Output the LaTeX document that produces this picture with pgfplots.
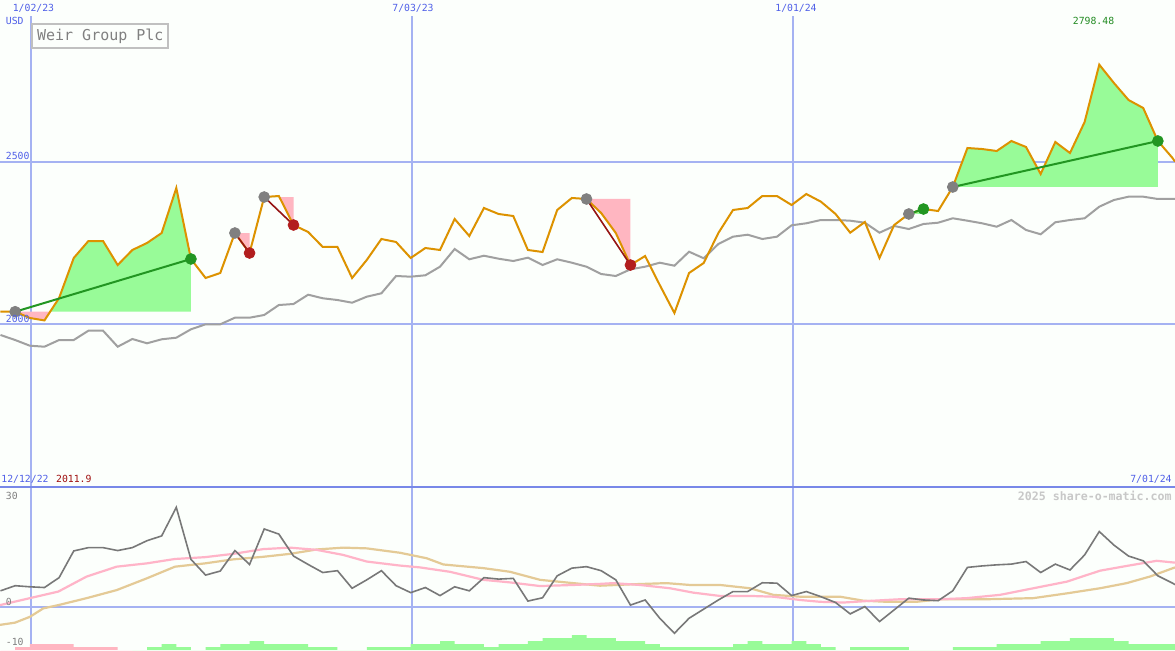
\documentclass[border=0pt]{standalone}
\usepackage{pgfplots}
\pgfplotsset{compat=1.18}
\usepackage{fontspec}
\newfontfamily\mono{DejaVu Sans Mono}
\definecolor{bg}{RGB}{252,255,252}
\definecolor{gridblue}{RGB}{165,178,242}
\definecolor{sepblue}{RGB}{120,136,232}
\definecolor{txtblue}{RGB}{80,96,232}
\definecolor{priceor}{RGB}{221,146,0}
\definecolor{magray}{RGB}{160,160,160}
\definecolor{fillgreen}{RGB}{152,251,152}
\definecolor{fillpink}{RGB}{255,182,193}
\definecolor{trendgreen}{RGB}{34,150,34}
\definecolor{trendred}{RGB}{150,20,20}
\definecolor{markgray}{RGB}{128,128,128}
\definecolor{markred}{RGB}{178,30,30}
\definecolor{markgreen}{RGB}{34,150,34}
\definecolor{oscgray}{RGB}{120,120,120}
\definecolor{sigpink}{RGB}{255,180,200}
\definecolor{sigtan}{RGB}{228,202,150}
\definecolor{boxgray}{RGB}{192,192,192}
\definecolor{wmgray}{RGB}{200,200,200}
\definecolor{txtgreen}{RGB}{34,139,34}
\definecolor{txtred}{RGB}{160,16,16}
\newcommand{\sm}{\mono\fontsize{4.9}{5}\selectfont}
\begin{document}
\begin{tikzpicture}
\path[use as bounding box, fill=bg] (0pt,0pt) rectangle (587.5pt,325pt);
% ---------------- upper panel ----------------
\begin{axis}[at={(0pt,81.5pt)}, anchor=south west, scale only axis,
  width=587.5pt, height=235.5pt,
  xmin=-0.034, xmax=80.17, ymin=1499.7, ymax=2948.0,
  axis line style={draw=none}, major tick length=0pt,
  xtick={2.08,28.09,54.1}, ytick={2000,2500},
  xticklabels={}, yticklabels={},
  grid=major,
  x grid style={gridblue, line width=0.6pt},
  y grid style={gridblue, line width=1pt},
  clip=false]
% trade areas
\addplot[fill=fillpink, draw=none] coordinates {(1,2038.7) (2,2019.4) (3,2011.9) (3.388,2038.7)} -- cycle;
\addplot[fill=fillgreen, draw=none] coordinates {(3.388,2038.7) (4,2080.9) (5,2203.9) (6,2256.1) (7,2256.1) (8,2182.3) (9,2228.5) (10,2250.0) (11,2280.7) (12,2419.1) (13,2200.8) (13,2038.7)} -- cycle;
\addplot[fill=fillpink, draw=none] coordinates {(16,2280.7) (17,2219.2) (17,2280.7)} -- cycle;
\addplot[fill=fillgreen, draw=none] coordinates {(18,2391.4) (19,2394.5) (19.035,2391.4)} -- cycle;
\addplot[fill=fillpink, draw=none] coordinates {(19.035,2391.4) (20,2305.3) (20,2391.4)} -- cycle;
\addplot[fill=fillpink, draw=none] coordinates {(40,2385.3) (41,2342.2) (42,2280.7) (43,2182.3) (43,2385.3)} -- cycle;
\addplot[fill=fillgreen, draw=none] coordinates {(62,2339.2) (63,2354.5) (63,2339.2)} -- cycle;
\addplot[fill=fillgreen, draw=none] coordinates {(65,2422.2) (66,2542.1) (67,2539.0) (68,2532.9) (69,2563.6) (70,2545.2) (71,2462.2) (72,2560.6) (73,2526.7) (74,2622.1) (75,2798.48) (76,2742.0) (77,2689.7) (78,2665.1) (79,2563.6) (79,2422.2)} -- cycle;
% moving average
\addplot[magray, line width=1pt] coordinates {
(0,1967.1) (1,1951.7) (2,1934.2) (3,1931.1) (4,1951.7) (5,1951.7) (6,1980.3) (7,1980.3) (8,1931.1) (9,1954.8)
(10,1941.6) (11,1953.9) (12,1958.8) (13,1984.6) (14,2000.0) (15,2000.0) (16,2020.3) (17,2020.3) (18,2028.6) (19,2059.3)
(20,2062.4) (21,2091.0) (22,2080.0) (23,2074.7) (24,2066.4) (25,2084.9) (26,2095.3) (27,2148.5) (28,2146.4) (29,2150.7)
(30,2177.1) (31,2231.5) (32,2199.9) (33,2210.9) (34,2201.7) (35,2194.6) (36,2204.8) (37,2182.3) (38,2199.9) (39,2189.4)
(40,2177.1) (41,2154.7) (42,2148.5) (43,2169.1) (44,2177.1) (45,2189.4) (46,2180.2) (47,2223.2) (48,2203.0) (49,2246.9)
(50,2269.4) (51,2275.5) (52,2262.3) (53,2269.4) (54,2304.4) (55,2310.6) (56,2320.7) (57,2320.7) (58,2318.6) (59,2312.4)
(60,2281.7) (61,2302.3) (62,2293.0) (63,2308.4) (64,2312.4) (65,2326.0) (66,2318.6) (67,2310.6) (68,2300.1) (69,2320.7)
(70,2290.0) (71,2276.8) (72,2313.7) (73,2320.7) (74,2326.0) (75,2361.6) (76,2382.2) (77,2392.4) (78,2392.4) (79,2385.3)
(80,2385.3) (80.17,2385.3)};
% price
\addplot[priceor, line width=1pt] coordinates {
(0,2038.7) (1,2038.7) (2,2019.4) (3,2011.9) (4,2080.9) (5,2203.9) (6,2256.1) (7,2256.1) (8,2182.3) (9,2228.5)
(10,2250.0) (11,2280.7) (12,2419.1) (13,2200.8) (14,2142.4) (15,2157.7) (16,2280.7) (17,2219.2) (18,2391.4) (19,2394.5)
(20,2305.3) (21,2283.8) (22,2237.7) (23,2237.7) (24,2142.4) (25,2197.7) (26,2262.3) (27,2253.1) (28,2203.9) (29,2234.6)
(30,2228.5) (31,2323.8) (32,2271.5) (33,2357.6) (34,2339.2) (35,2333.0) (36,2228.5) (37,2222.3) (38,2351.5) (39,2388.4)
(40,2385.3) (41,2342.2) (42,2280.7) (43,2182.3) (44,2210.0) (45,2120.8) (46,2034.7) (47,2157.7) (48,2188.5) (49,2280.7)
(50,2351.5) (51,2357.6) (52,2394.5) (53,2394.5) (54,2366.8) (55,2400.7) (56,2377.0) (57,2339.2) (58,2281.7) (59,2314.6)
(60,2203.9) (61,2305.3) (62,2339.2) (63,2354.5) (64,2348.4) (65,2422.2) (66,2542.1) (67,2539.0) (68,2532.9) (69,2563.6)
(70,2545.2) (71,2462.2) (72,2560.6) (73,2526.7) (74,2622.1) (75,2798.48) (76,2742.0) (77,2689.7) (78,2665.1) (79,2563.6)
(80,2511.4) (80.17,2500.0)};
% trend lines
\addplot[trendgreen, line width=1pt] coordinates {(1,2038.7) (13,2200.8)};
\addplot[trendred, line width=0.8pt] coordinates {(16,2280.7) (17,2219.2)};
\addplot[trendred, line width=0.8pt] coordinates {(18,2391.4) (20,2305.3)};
\addplot[trendred, line width=0.8pt] coordinates {(40,2385.3) (43,2182.3)};
\addplot[trendgreen, line width=1pt] coordinates {(62,2339.2) (63,2354.5)};
\addplot[trendgreen, line width=1pt] coordinates {(65,2422.2) (79,2563.6)};
% markers
\addplot[only marks, mark=*, mark size=2.7pt, mark options={fill=markgray, draw=markgray}] coordinates {(1,2038.7) (16,2280.7) (18,2391.4) (40,2385.3) (62,2339.2) (65,2422.2)};
\addplot[only marks, mark=*, mark size=2.7pt, mark options={fill=markred, draw=markred}] coordinates {(17,2219.2) (20,2305.3) (43,2182.3)};
\addplot[only marks, mark=*, mark size=2.7pt, mark options={fill=markgreen, draw=markgreen}] coordinates {(13,2200.8) (63,2354.5) (79,2563.6)};
\end{axis}
% ---------------- lower panel ----------------
\begin{axis}[at={(0pt,0pt)}, anchor=south west, scale only axis,
  width=587.5pt, height=81.5pt,
  xmin=-0.034, xmax=80.17, ymin=-11.67, ymax=32.87,
  axis line style={draw=none}, major tick length=0pt,
  xtick={2.08,28.09,54.1}, ytick={0},
  xticklabels={}, yticklabels={},
  grid=major,
  x grid style={gridblue, line width=0.6pt},
  y grid style={gridblue, line width=1pt},
  clip=false]
\addplot[sigtan, line width=1.1pt] coordinates {
(-0.03,-4.8) (0.99,-4.2) (2.01,-2.6) (2.92,-0.3) (3.95,0.6) (5.88,2.5) (7.93,4.7) (9.98,7.9) (11.91,11.1) (13.96,12.0)
(15.89,13.1) (17.94,13.8) (19.76,14.6) (21.58,15.8) (23.4,16.3) (25.0,16.1) (27.27,14.9) (29.09,13.4) (30.23,11.7) (32.96,10.7)
(34.78,9.7) (36.83,7.5) (39.1,6.6) (40.92,5.9) (43.2,6.3) (45.47,6.6) (47.07,6.1) (49.11,6.1) (51.16,5.2) (52.75,3.4)
(54.57,2.9) (57.3,2.9) (58.9,1.8) (60.49,1.5) (62.54,1.5) (64.13,2.2) (67.32,2.2) (70.5,2.5) (72.78,3.8) (75.05,5.2)
(76.87,6.6) (78.46,8.4) (80.17,10.9)};
\addplot[sigpink, line width=1.1pt] coordinates {
(-0.03,0.6) (2.01,2.5) (3.95,4.3) (5.88,8.4) (7.93,11.1) (9.98,12.0) (11.91,13.2) (13.96,13.7) (15.89,14.6) (17.94,15.9)
(19.76,16.3) (21.58,15.7) (23.4,14.3) (25.0,12.5) (27.27,11.4) (28.63,10.9) (30.68,9.7) (32.96,7.5) (34.78,6.8) (36.83,5.8)
(39.1,6.1) (40.92,6.4) (41.83,6.6) (43.65,6.1) (45.7,5.2) (47.29,4.0) (49.11,3.1) (51.16,3.1) (52.75,2.9) (54.57,2.0)
(55.94,1.5) (57.53,1.3) (59.13,1.7) (61.4,2.2) (64.13,2.2) (65.95,2.5) (68.23,3.4) (70.5,5.2) (72.78,7.0) (75.05,10.0)
(76.87,11.3) (78.92,12.7) (80.17,12.2)};
\addplot[oscgray, line width=0.8pt] coordinates {
(0,4.5) (1,5.9) (2,5.6) (3,5.4) (4,8.1) (5,15.4) (6,16.3) (7,16.3) (8,15.5) (9,16.3)
(10,18.2) (11,19.5) (12,27.3) (13,13.1) (14,8.8) (15,9.9) (16,15.5) (17,11.7) (18,21.4) (19,20.0)
(20,14.0) (21,11.7) (22,9.5) (23,10.0) (24,5.2) (25,7.5) (26,10.0) (27,5.9) (28,4.0) (29,5.4)
(30,3.2) (31,5.6) (32,4.5) (33,8.1) (34,7.7) (35,7.9) (36,1.7) (37,2.6) (38,8.6) (39,10.7)
(40,11.1) (41,10.0) (42,7.5) (43,0.6) (44,2.0) (45,-3.0) (46,-7.1) (47,-3.0) (48,-0.5) (49,2.0)
(50,4.3) (51,4.3) (52,6.7) (53,6.6) (54,3.2) (55,4.3) (56,2.9) (57,1.3) (58,-1.8) (59,0.2)
(60,-3.9) (61,-0.7) (62,2.5) (63,2.0) (64,1.8) (65,4.5) (66,10.9) (67,11.3) (68,11.6) (69,11.8)
(70,12.5) (71,9.5) (72,11.8) (73,10.2) (74,14.3) (75,20.7) (76,17.0) (77,14.0) (78,12.7) (79,8.6)
(80,6.6) (80.17,6.2)};
\draw[sepblue, line width=1.2pt] (rel axis cs:0,1) -- (rel axis cs:1,1);
\end{axis}
% ---------------- histogram bars ----------------
\begin{axis}[at={(0pt,0pt)}, anchor=south west, scale only axis,
  width=587.5pt, height=81.5pt,
  xmin=-0.034, xmax=80.17, ymin=0, ymax=54.33, hide axis]
\addplot[const plot, fill=fillpink, draw=none] coordinates {
(0,0) (1,1) (2,2) (3,2) (4,2) (5,1) (6,1) (7,1) (8,0) (9,0)} \closedcycle;
\addplot[const plot, fill=fillgreen, draw=none] coordinates {
(9,0) (10,1) (11,2) (12,1) (13,0) (14,1) (15,2) (16,2) (17,3) (18,2) (19,2)
(20,2) (21,1) (22,1) (23,0) (24,0) (25,1) (26,1) (27,1) (28,2) (29,2)
(30,3) (31,2) (32,2) (33,1) (34,2) (35,2) (36,3) (37,4) (38,4) (39,5)
(40,4) (41,4) (42,3) (43,3) (44,2) (45,1) (46,1) (47,1) (48,1) (49,1)
(50,2) (51,3) (52,2) (53,2) (54,3) (55,2) (56,1) (57,0) (58,1) (59,1)
(60,1) (61,1) (62,0) (63,0) (64,0) (65,1) (66,1) (67,1) (68,2) (69,2)
(70,2) (71,3) (72,3) (73,4) (74,4) (75,4) (76,3) (77,2) (78,2) (79,2)
(80,2) (80.17,2)} \closedcycle;
\end{axis}
% ---------------- texts ----------------
\node[draw=boxgray, line width=1pt, minimum width=68pt, minimum height=12pt, inner sep=0pt,
  text=markgray, font=\mono\fontsize{7.5}{8}\selectfont] at (50.15pt,306.85pt) {Weir Group Plc};
\node[inner sep=0pt, text=txtblue, font=\sm] at (16.75pt,321pt) {1/02/23};
\node[inner sep=0pt, text=txtblue, font=\sm] at (206.5pt,321pt) {7/03/23};
\node[inner sep=0pt, text=txtblue, font=\sm] at (398pt,321pt) {1/01/24};
\node[inner sep=0pt, anchor=west, text=txtblue, font=\sm] at (2.75pt,314.75pt) {USD};
\node[inner sep=0pt, anchor=west, text=txtblue, font=\sm] at (2.75pt,247pt) {2500};
\node[inner sep=0pt, anchor=west, text=txtblue, font=\sm] at (2.75pt,165.5pt) {2000};
\node[inner sep=0pt, text=txtgreen, font=\sm] at (546.75pt,314.5pt) {2798.48};
\node[inner sep=0pt, anchor=west, text=txtblue, font=\sm] at (0.5pt,85.5pt) {12/12/22};
\node[inner sep=0pt, anchor=west, text=txtred, font=\sm] at (27.85pt,85.5pt) {2011.9};
\node[inner sep=0pt, anchor=east, text=txtblue, font=\sm] at (586pt,85.5pt) {7/01/24};
\node[inner sep=0pt, anchor=east, text=wmgray, font=\mono\bfseries\fontsize{5.8}{6}\selectfont] at (586pt,77pt) {2025 share-o-matic.com};
\node[inner sep=0pt, anchor=west, text=markgray, font=\sm] at (2.75pt,77pt) {30};
\node[inner sep=0pt, anchor=west, text=markgray, font=\sm] at (2.75pt,23.85pt) {0};
\node[inner sep=0pt, anchor=west, text=markgray, font=\sm] at (2.75pt,3.85pt) {-10};
\end{tikzpicture}
\end{document}
